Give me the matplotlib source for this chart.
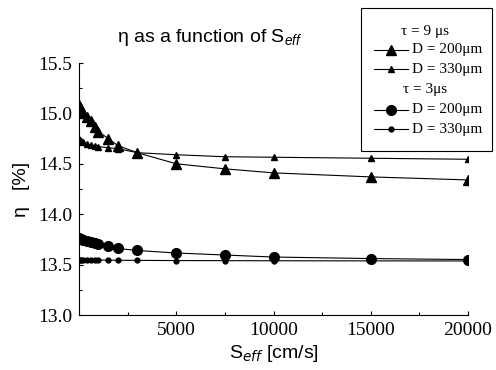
import matplotlib
matplotlib.use("Agg")
import matplotlib.pyplot as plt
from matplotlib.lines import Line2D
from matplotlib.patches import Rectangle
from matplotlib.ticker import MultipleLocator

# ---- data ----
s_eff = [10, 50, 100, 200, 400, 600, 800, 1000, 1500, 2000, 3000, 5000, 7500, 10000, 15000, 20000]
eta_t9_d200 = [15.08, 15.06, 15.04, 15.00, 14.96, 14.92, 14.87, 14.82, 14.75, 14.68, 14.61, 14.50, 14.45, 14.41, 14.37, 14.34]
eta_t9_d330 = [14.75, 14.74, 14.73, 14.72, 14.70, 14.69, 14.68, 14.67, 14.66, 14.65, 14.61, 14.59, 14.57, 14.565, 14.555, 14.545]
eta_t3_d200 = [13.76, 13.755, 13.75, 13.74, 13.73, 13.72, 13.715, 13.70, 13.68, 13.66, 13.64, 13.615, 13.595, 13.575, 13.56, 13.55]
eta_t3_d330 = [13.55, 13.55, 13.55, 13.548, 13.547, 13.546, 13.545, 13.545, 13.544, 13.543, 13.542, 13.54, 13.539, 13.538, 13.537, 13.536]
xticks = [5000, 10000, 15000, 20000]
yticks = [13.0, 13.5, 14.0, 14.5, 15.0, 15.5]
legend_labels = ["τ = 9 μs", "D = 200μm", "D = 330μm", "τ = 3μs", "D = 200μm", "D = 330μm"]

W, H = 496, 370
fig = plt.figure(figsize=(W / 100, H / 100), dpi=100)
ax = fig.add_axes([79 / W, 1 - 315 / H, (468 - 79) / W, (315 - 63) / H])

serif = "Liberation Serif"
sans = "Liberation Sans"
plt.rcParams["mathtext.fontset"] = "custom"
plt.rcParams["mathtext.rm"] = sans
plt.rcParams["mathtext.it"] = sans + ":italic"

lw = 0.8
ax.plot(s_eff, eta_t9_d200, color="black", lw=lw, marker="^", ms=7.5)
ax.plot(s_eff, eta_t9_d330, color="black", lw=lw, marker="^", ms=4)
ax.plot(s_eff, eta_t3_d200, color="black", lw=lw, marker="o", ms=7)
ax.plot(s_eff, eta_t3_d330, color="black", lw=lw, marker="o", ms=3.5)

ax.set_xlim(0, 20000)
ax.set_ylim(13.0, 15.5)
ax.set_xticks(xticks)
ax.set_yticks(yticks)
ax.set_yticklabels([f"{v:.1f}" for v in yticks])
ax.xaxis.set_minor_locator(MultipleLocator(2500))
ax.yaxis.set_minor_locator(MultipleLocator(0.25))
ax.tick_params(which="both", direction="in", width=0.8, labelsize=14, pad=5)
ax.tick_params(which="major", length=3.2)
ax.tick_params(which="minor", length=2.5)
for lab in ax.get_xticklabels() + ax.get_yticklabels():
    lab.set_fontfamily(serif)
for s in ["top", "right"]:
    ax.spines[s].set_visible(False)
for s in ["left", "bottom"]:
    ax.spines[s].set_linewidth(0.8)

ax.set_xlabel(r"S$_{\mathit{eff}}$ [cm/s]", fontfamily=sans, fontsize=14, labelpad=3)
ax.set_ylabel("η   [%]", fontfamily=sans, fontsize=14, labelpad=6)
fig.text(210 / W, 1 - 37 / H, r"η as a function of S$_{\mathit{eff}}$", fontfamily=sans,
         fontsize=14, ha="center", va="center")

# ---- legend box ----
fig.add_artist(Rectangle((361 / W, 1 - 151 / H), (492 - 361) / W, (151 - 8) / H,
                         transform=fig.transFigure, fill=False, lw=0.8, ec="black"))
rows_y = [31, 50, 69, 89, 110, 129]
handles = [None, ("^", 7.5), ("^", 4), None, ("o", 7), ("o", 3.5)]
for lab, yy, h in zip(legend_labels, rows_y, handles):
    yf = 1 - yy / H
    if h is None:
        fig.text(425 / W, yf, lab, fontfamily=serif, fontsize=11, ha="center", va="center")
    else:
        fig.add_artist(Line2D([374 / W, 408 / W], [yf, yf], transform=fig.transFigure,
                              color="black", lw=lw))
        fig.add_artist(Line2D([391 / W], [yf], transform=fig.transFigure, color="black",
                              marker=h[0], ms=h[1], lw=0))
        fig.text(412 / W, yf, lab, fontfamily=serif, fontsize=11, ha="left", va="center")

fig.savefig("out.png", dpi=100)
